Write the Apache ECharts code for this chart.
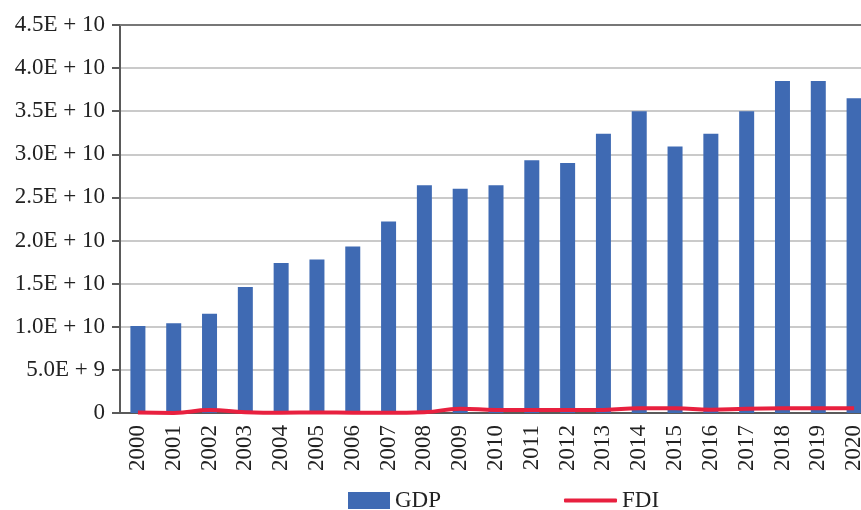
<!DOCTYPE html>
<html>
<head>
<meta charset="utf-8">
<script src="https://cdn.jsdelivr.net/npm/echarts@6/dist/echarts.min.js"></script>
<style>
  html, body { margin: 0; padding: 0; background: #fff; }
  #chart { width: 861px; height: 510px; }
</style>
</head>
<body>
<div id="chart"></div>
<script>
var years = ['2000', '2001', '2002', '2003', '2004', '2005', '2006', '2007', '2008', '2009', '2010',
             '2011', '2012', '2013', '2014', '2015', '2016', '2017', '2018', '2019', '2020'];
var gdp = [1.01e10, 1.04e10, 1.15e10, 1.46e10, 1.74e10, 1.78e10, 1.93e10, 2.22e10, 2.64e10, 2.60e10, 2.64e10,
           2.93e10, 2.90e10, 3.24e10, 3.50e10, 3.09e10, 3.24e10, 3.50e10, 3.85e10, 3.85e10, 3.65e10];
var fdi = [0.6e8, 0.1e8, 3.5e8, 1.0e8, 0.3e8, 0.6e8, 0.3e8, 0.2e8, 0.8e8, 5.0e8, 3.6e8,
           3.5e8, 3.5e8, 3.6e8, 5.4e8, 5.4e8, 3.8e8, 5.0e8, 5.4e8, 5.4e8, 5.4e8];
var yTickLabels = ['0', '5.0E + 9', '1.0E + 10', '1.5E + 10', '2.0E + 10', '2.5E + 10',
                   '3.0E + 10', '3.5E + 10', '4.0E + 10', '4.5E + 10'];

var serif = '"Liberation Serif", "DejaVu Serif", serif';
var chart = echarts.init(document.getElementById('chart'));

chart.setOption({
    animation: false,
    grid: { left: 120, top: 25, width: 752, height: 388, outerBoundsMode: 'none', containLabel: false },
    legend: [
        {
            data: [{ name: 'GDP', icon: 'rect' }], left: 343, top: 484,
            itemWidth: 42, itemHeight: 17, itemGap: 0,
            textStyle: { fontFamily: serif, fontSize: 23, color: '#222' }
        },
        {
            data: [{ name: 'FDI', icon: 'roundRect' }], left: 559, top: 484,
            itemWidth: 53, itemHeight: 4,
            textStyle: { fontFamily: serif, fontSize: 23, color: '#222' }
        }
    ],
    xAxis: [
        {
            type: 'category',
            data: years,
            axisLine: { lineStyle: { color: '#5a5a5a', width: 2 } },
            axisTick: { length: 8, lineStyle: { color: '#5a5a5a', width: 2 } },
            axisLabel: { rotate: 90, margin: 12, fontFamily: serif, fontSize: 23, color: '#222', interval: 0 }
        },
        {
            type: 'category',
            position: 'top',
            data: years,
            axisLine: { lineStyle: { color: '#777', width: 2 } },
            axisTick: { show: false },
            axisLabel: { show: false }
        }
    ],
    yAxis: {
        type: 'value',
        min: 0, max: 4.5e10, interval: 5e9,
        axisLine: { show: true, lineStyle: { color: '#5a5a5a', width: 2 } },
        axisTick: { show: true, length: 8, lineStyle: { color: '#5a5a5a', width: 2 } },
        axisLabel: {
            margin: 15, fontFamily: serif, fontSize: 23, color: '#222',
            formatter: function(v) { return yTickLabels[Math.round(v / 5e9)]; }
        },
        splitLine: { lineStyle: { color: '#b8b8b8', width: 1.5 } }
    },
    series: [
        {
            name: 'GDP',
            type: 'bar',
            data: gdp,
            barWidth: 15,
            itemStyle: { color: '#3f6ab3' }
        },
        {
            name: 'FDI',
            type: 'line',
            data: fdi,
            smooth: true,
            symbol: 'none',
            lineStyle: { color: '#e8203f', width: 4 },
            itemStyle: { color: '#e8203f' }
        }
    ]
});
</script>
</body>
</html>
